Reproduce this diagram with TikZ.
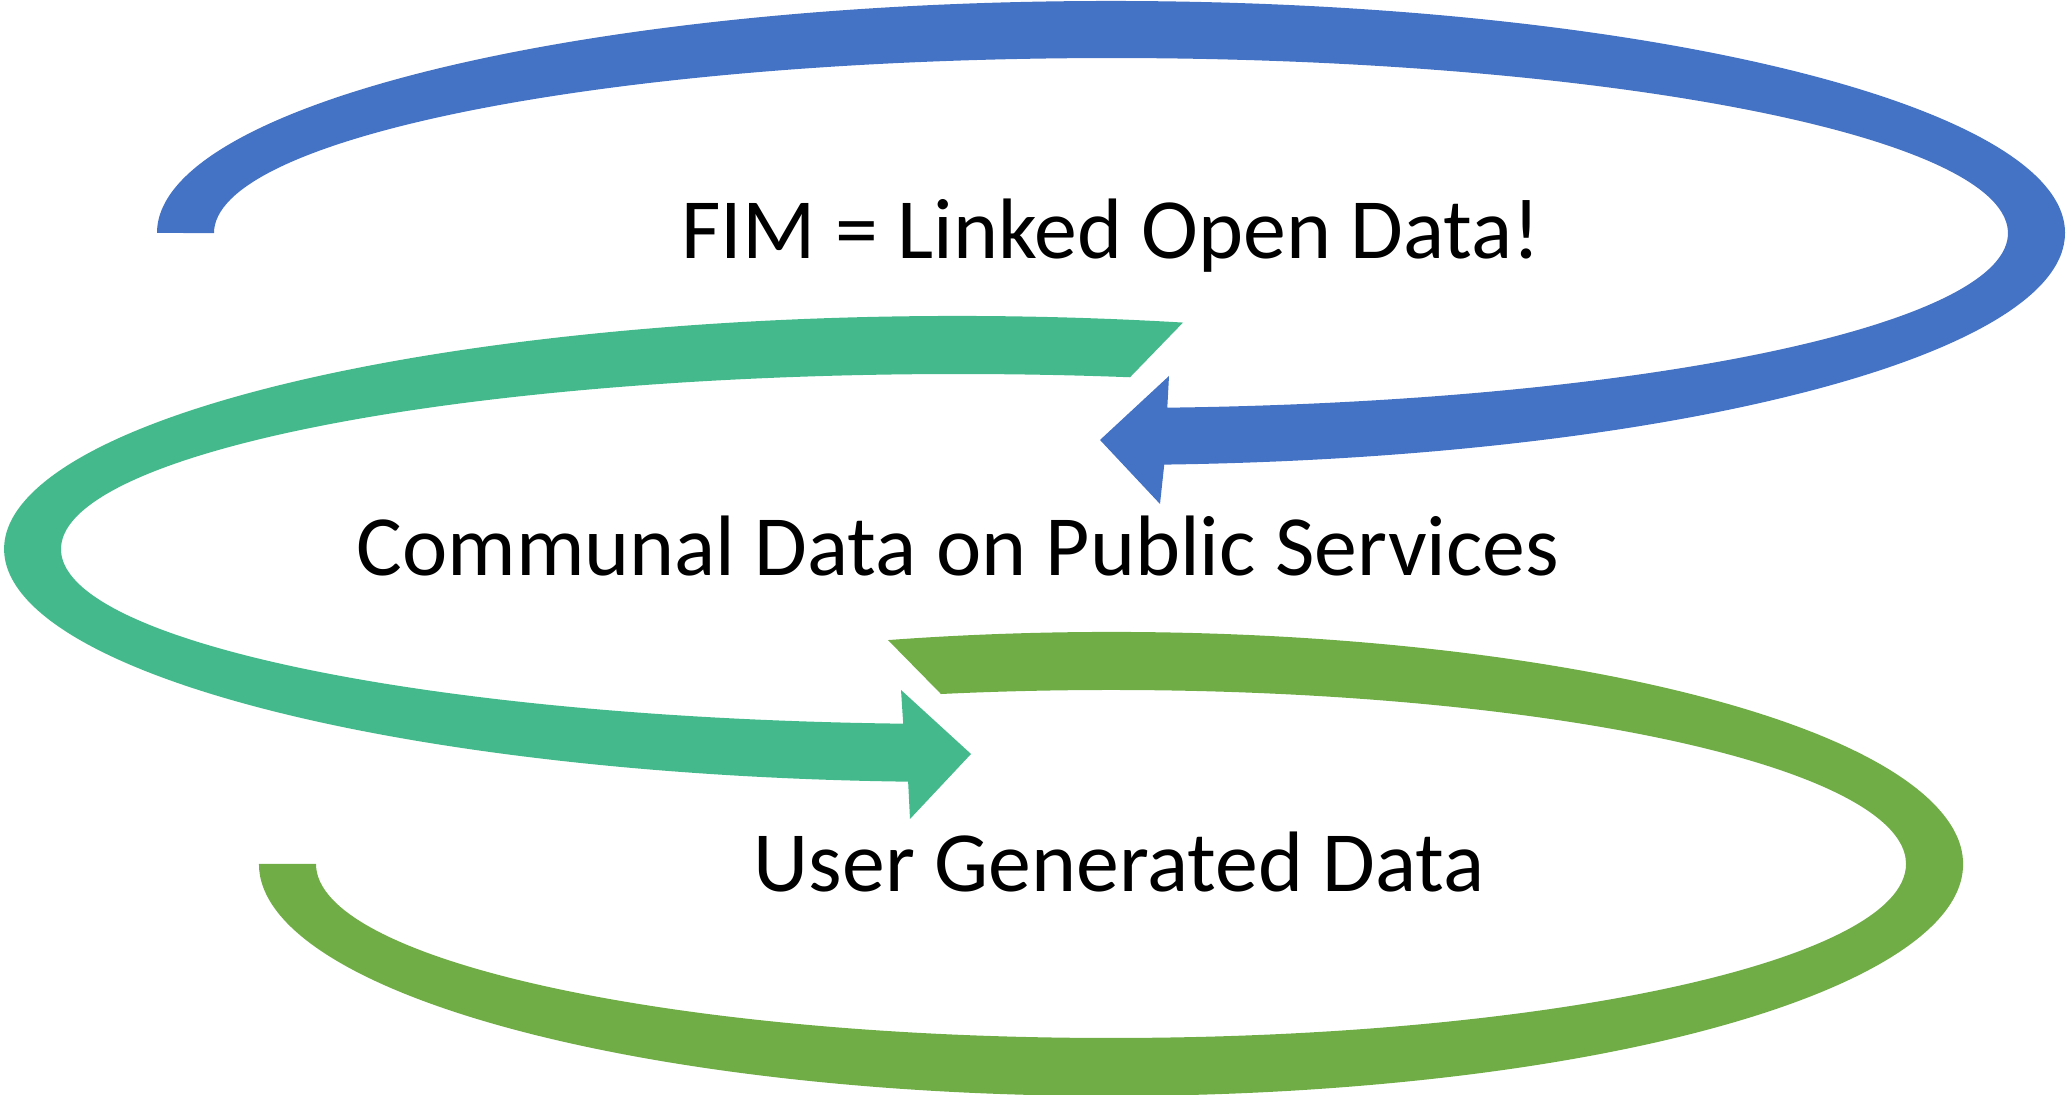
\documentclass[tikz,border=0pt]{standalone}
\usepackage{fontspec}
\setmainfont{Carlito}
\definecolor{fimblue}{RGB}{68,114,196}
\definecolor{fimteal}{RGB}{68,186,140}
\definecolor{fimlime}{RGB}{112,173,71}
\usetikzlibrary{positioning}

\begin{document}
\begin{tikzpicture}[
  x=0.01cm, y=0.01cm,
  band/.style={fill=#1, draw=none},
  lbl/.style={anchor=base, inner sep=0pt, font=\fontsize{24.4}{29}\selectfont}
]
  \useasboundingbox (0,0) rectangle (2066,1095);
  \clip (0,0) rectangle (2066,1095);

  % top loop
  \fill[band=fimblue] (157,862) arc[start angle=180, end angle=-86.8, x radius=954, y radius=232]
    -- (1160,591) -- (1100,655) -- (1169,719) -- (1167.3,687.3)
    arc[start angle=-86.4, end angle=180, x radius=897, y radius=175] -- cycle;

  % middle loop
  \fill[band=fimteal] (1183,772.4) arc[start angle=76.36, end angle=267, x radius=954, y radius=233]
    -- (910,276) -- (971,341) -- (901,405) -- (903.2,371.3)
    arc[start angle=266.5, end angle=78.94, x radius=897, y radius=175] -- cycle;

  % bottom loop
  \fill[band=fimlime] (888,454.9) arc[start angle=105.17, end angle=-180, x radius=852, y radius=232]
    -- (316,231)
    arc[start angle=-180, end angle=102.35, x radius=795, y radius=174] -- cycle;

  \node[lbl] (fim) at (1111,836) {FIM = Linked Open Data!};
  \node[lbl] (communal) at (958,519) {Communal Data on Public Services};
  \node[lbl] (user) at (1119,203) {User Generated Data};
\end{tikzpicture}
\end{document}
